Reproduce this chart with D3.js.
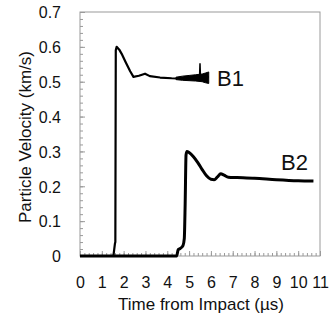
<!DOCTYPE html>
<html>
<head>
<meta charset="utf-8">
<script src="https://cdn.jsdelivr.net/npm/d3@7"></script>
<style>
  body { margin: 0; background: #fff; }
  text { font-family: Arial, "Liberation Sans", sans-serif; fill: #111; }
</style>
</head>
<body>
<div id="root"></div>
<script>
// B1 trace (time in us, particle velocity in km/s)
var b1T = [0, 1.53, 1.57, 1.6, 1.62, 1.64, 1.68, 1.8, 1.91, 2.1, 2.3, 2.45, 2.7, 2.98, 3.2, 3.67, 4.2, 4.74, 5.0, 5.5, 5.9]
var b1V = [0, 0, 0.02, 0.035, 0.04, 0.59, 0.6, 0.592, 0.58, 0.555, 0.53, 0.514, 0.517, 0.523, 0.516, 0.512, 0.51, 0.509, 0.51, 0.512, 0.513]
// noisy tail of B1 (envelope)
var b1NoiseT = [4.4, 4.7, 5.0, 5.3, 5.6, 5.75, 5.9]
var b1NoiseLo = [0.506, 0.504, 0.503, 0.502, 0.5, 0.497, 0.495]
var b1NoiseHi = [0.513, 0.516, 0.518, 0.52, 0.522, 0.525, 0.528]
var b1SpikeT = [5.48, 5.5, 5.52]
var b1SpikeV = [0.515, 0.553, 0.515]

// B2 trace
var b2T = [0, 4.43, 4.5, 4.6, 4.72, 4.78, 4.82, 4.86, 4.9, 5.0, 5.2, 5.4, 5.6, 5.8, 6.0, 6.15, 6.3, 6.45, 6.6, 6.8, 7.2, 8, 9, 10, 10.7]
var b2V = [0, 0, 0.018, 0.022, 0.03, 0.05, 0.15, 0.29, 0.3, 0.297, 0.285, 0.268, 0.248, 0.23, 0.22, 0.219, 0.227, 0.236, 0.232, 0.226, 0.225, 0.223, 0.219, 0.216, 0.215]

var xTicks = [0, 1, 2, 3, 4, 5, 6, 7, 8, 9, 10, 11]
var yTicks = [0, 0.1, 0.2, 0.3, 0.4, 0.5, 0.6, 0.7]
var seriesLabels = ['B1', 'B2']

var width = 332, height = 322
var m = { left: 80, right: 12, top: 12, bottom: 66 }

var svg = d3.select('#root').append('svg')
    .attr('width', width)
    .attr('height', height)

var x = d3.scaleLinear().domain([0, 11]).range([m.left, width - m.right])
var y = d3.scaleLinear().domain([0, 0.7]).range([height - m.bottom, m.top])

// frame
svg.append('rect')
    .attr('x', x(0)).attr('y', y(0.7))
    .attr('width', x(11) - x(0)).attr('height', y(0) - y(0.7))
    .attr('fill', 'none').attr('stroke', '#9a9a9a').attr('stroke-width', 1)

// minor ticks (inside)
var yMinor = d3.range(0, 36).map(function (i) { return i * 0.02 })
var xMinor = d3.range(0, 56).map(function (i) { return i * 0.2 })

function cleanAxis(g) {
    g.select('.domain').remove()
    g.selectAll('line').attr('stroke', '#9a9a9a')
}

svg.append('g')
    .attr('transform', 'translate(' + x(0) + ',0)')
    .call(d3.axisRight(y).tickValues(yMinor).tickSize(3).tickFormat(''))
    .call(cleanAxis)
svg.append('g')
    .attr('transform', 'translate(' + x(0) + ',0)')
    .call(d3.axisRight(y).tickValues(yTicks).tickSize(5).tickFormat(''))
    .call(cleanAxis)
svg.append('g')
    .attr('transform', 'translate(0,' + y(0) + ')')
    .call(d3.axisTop(x).tickValues(xMinor).tickSize(3).tickFormat(''))
    .call(cleanAxis)
svg.append('g')
    .attr('transform', 'translate(0,' + y(0) + ')')
    .call(d3.axisTop(x).tickValues(xTicks).tickSize(5).tickFormat(''))
    .call(cleanAxis)

// tick labels
svg.append('g')
    .attr('transform', 'translate(' + (x(0) - 16) + ',0)')
    .call(d3.axisLeft(y).tickValues(yTicks).tickSize(0)
        .tickFormat(function (d) { return d === 0 ? '0' : d3.format('.1f')(d) }))
    .call(function (g) {
        g.select('.domain').remove()
        g.selectAll('text').attr('font-size', 16).attr('font-family', null).attr('dy', '0.36em')
    })

svg.append('g')
    .attr('transform', 'translate(0,' + (y(0) + 18) + ')')
    .call(d3.axisBottom(x).tickValues(xTicks).tickSize(0).tickFormat(d3.format('d')))
    .call(function (g) {
        g.select('.domain').remove()
        g.selectAll('text').attr('font-size', 16).attr('font-family', null)
    })

// axis titles
svg.append('text')
    .attr('x', 201).attr('y', 310)
    .attr('text-anchor', 'middle')
    .attr('font-size', 17)
    .text('Time from Impact (\u00b5s)')

svg.append('text')
    .attr('transform', 'translate(31,137) rotate(-90)')
    .attr('text-anchor', 'middle')
    .attr('font-size', 17)
    .text('Particle Velocity (km/s)')

// data
var line = d3.line()
    .x(function (d) { return x(d[0]) })
    .y(function (d) { return y(d[1]) })

function pairs(t, v) { return t.map(function (d, i) { return [d, v[i]] }) }

svg.append('path')
    .attr('d', line(pairs(b1T, b1V)))
    .attr('fill', 'none').attr('stroke', '#000').attr('stroke-width', 2.2)
    .attr('stroke-linejoin', 'round')

svg.append('path')
    .attr('d', d3.area()
        .x(function (d, i) { return x(d) })
        .y0(function (d, i) { return y(b1NoiseLo[i]) })
        .y1(function (d, i) { return y(b1NoiseHi[i]) })(b1NoiseT))
    .attr('fill', '#000').attr('stroke', '#000').attr('stroke-width', 1)

svg.append('path')
    .attr('d', line(pairs(b1SpikeT, b1SpikeV)))
    .attr('fill', 'none').attr('stroke', '#000').attr('stroke-width', 1.5)

svg.append('path')
    .attr('d', line.curve(d3.curveMonotoneX)(pairs(b2T, b2V)))
    .attr('fill', 'none').attr('stroke', '#000').attr('stroke-width', 3)
    .attr('stroke-linejoin', 'round')

// series labels
svg.append('text')
    .attr('x', 217).attr('y', 86)
    .attr('font-size', 22)
    .text(seriesLabels[0])
svg.append('text')
    .attr('x', 281).attr('y', 170)
    .attr('font-size', 22)
    .text(seriesLabels[1])
</script>
</body>
</html>
